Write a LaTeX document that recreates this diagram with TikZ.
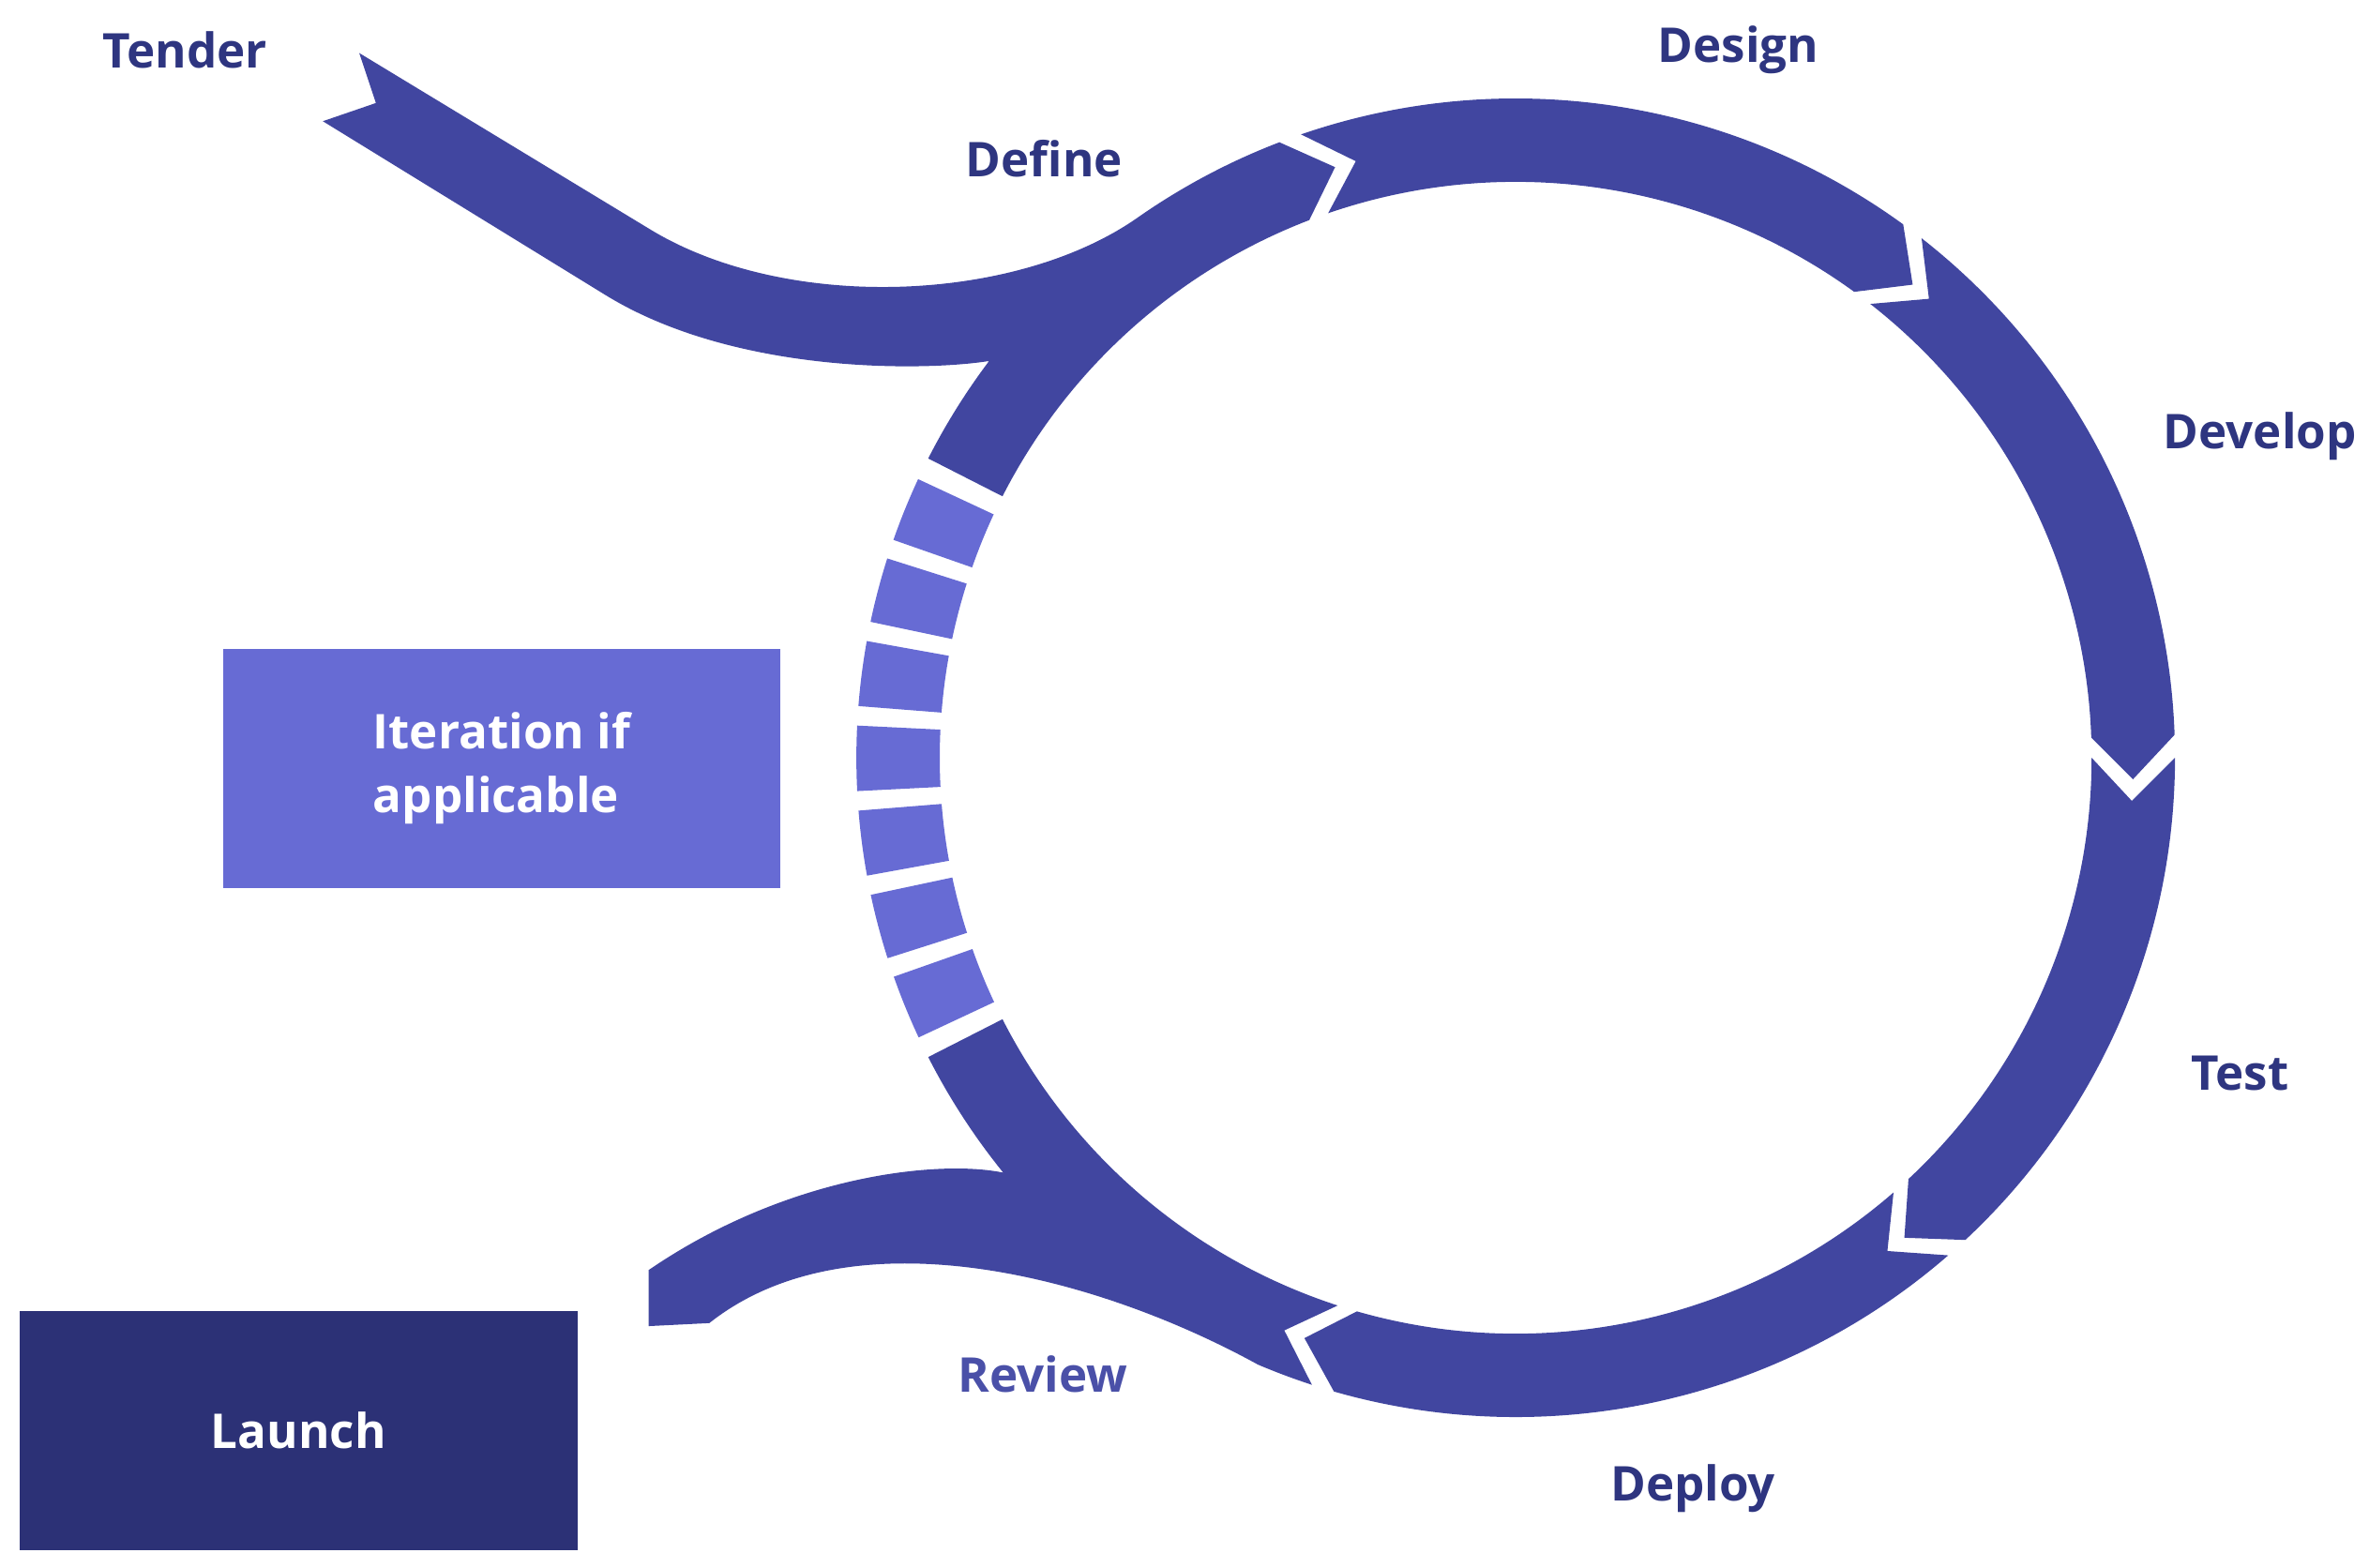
\documentclass[tikz,border=0pt]{standalone}
\usepackage{fontspec}
\setmainfont{Open Sans}
\begin{document}
\begin{tikzpicture}
\definecolor{ringc}{RGB}{65,70,160}
\definecolor{lightc}{RGB}{103,107,212}
\definecolor{launchc}{RGB}{44,49,118}
\definecolor{txtc}{RGB}{46,53,128}
\definecolor{revc}{RGB}{74,80,168}
\tikzset{ring/.style={fill=ringc},iterdash/.style={fill=lightc},
 lab/.style={text=txtc,font=\fontsize{9}{11}\selectfont\bfseries},
 box/.style={minimum width=3.68cm,minimum height=1.58cm,inner sep=0,text=white,font=\fontsize{9}{12}\selectfont\bfseries,align=left}}
\useasboundingbox (0,0) rectangle (15.63,10.34);
\coordinate (C) at (10,5.34);
\newcommand\seg[2]{\fill[ring] ([shift={(C)}]#1:4.35) arc[start angle=#1,end angle=#2,radius=4.35] -- ([shift={(C)}]{#2-4}:4.075) -- ([shift={(C)}]#2:3.80) arc[start angle=#2,end angle=#1,radius=3.80] -- ([shift={(C)}]{#1-4}:4.075) -- cycle;}
% Define with Tender tail
\fill[ring] (2.37,9.99) -- (4.30,8.82) .. controls (5.20,8.28) and (6.70,8.34) .. ([shift={(C)}]125:4.35) arc[start angle=125,end angle=111,radius=4.35] -- ([shift={(C)}]107:4.075) -- ([shift={(C)}]111:3.80) arc[start angle=111,end angle=153,radius=3.80] -- ([shift={(C)}]153:4.35) arc[start angle=153,end angle=143,radius=4.35] .. controls (6.10,7.89) and (4.85,7.87) .. (4.00,8.39) -- (2.13,9.54) -- (2.48,9.66) -- cycle;
\seg{109}{54}
\seg{52}{2}
\seg{0}{-47}
\seg{-49}{-106}
% Review with Launch tail
\fill[ring] ([shift={(C)}]-108:4.35) arc[start angle=-108,end angle=-113,radius=4.35] .. controls (7.20,1.94) and (5.60,2.34) .. (4.68,1.61) -- (4.28,1.59) -- (4.28,1.96) .. controls (5.20,2.59) and (6.20,2.69) .. ([shift={(C)}]-141:4.35) arc[start angle=-141,end angle=-153,radius=4.35] -- ([shift={(C)}]-153:3.80) arc[start angle=-153,end angle=-108,radius=3.80] -- ([shift={(C)}]-112:4.075) -- cycle;
% iteration dashes
\foreach \i in {0,...,6}{
 \pgfmathsetmacro\a{155+\i*7.4}
 \pgfmathsetmacro\b{\a+5.7}
 \fill[iterdash] ([shift={(C)}]\a:4.35) arc[start angle=\a,end angle=\b,radius=4.35] -- ([shift={(C)}]\b:3.80) arc[start angle=\b,end angle=\a,radius=3.80] -- cycle;}
\node[box,fill=lightc] (iter) at (3.31,5.27) {Iteration if\\applicable};
\node[box,fill=launchc] (launch) at (1.97,0.90) {Launch};
\node[lab] (tender) at (1.22,10.01) {Tender};
\node[lab] (define) at (6.89,9.29) {Define};
\node[lab] (design) at (11.47,10.01) {Design};
\node[lab] (develop) at (14.91,7.46) {Develop};
\node[lab] (test) at (14.78,3.26) {Test};
\node[lab] (deploy) at (11.17,0.52) {Deploy};
\node[lab,text=revc] (review) at (6.88,1.27) {Review};
\end{tikzpicture}
\end{document}
